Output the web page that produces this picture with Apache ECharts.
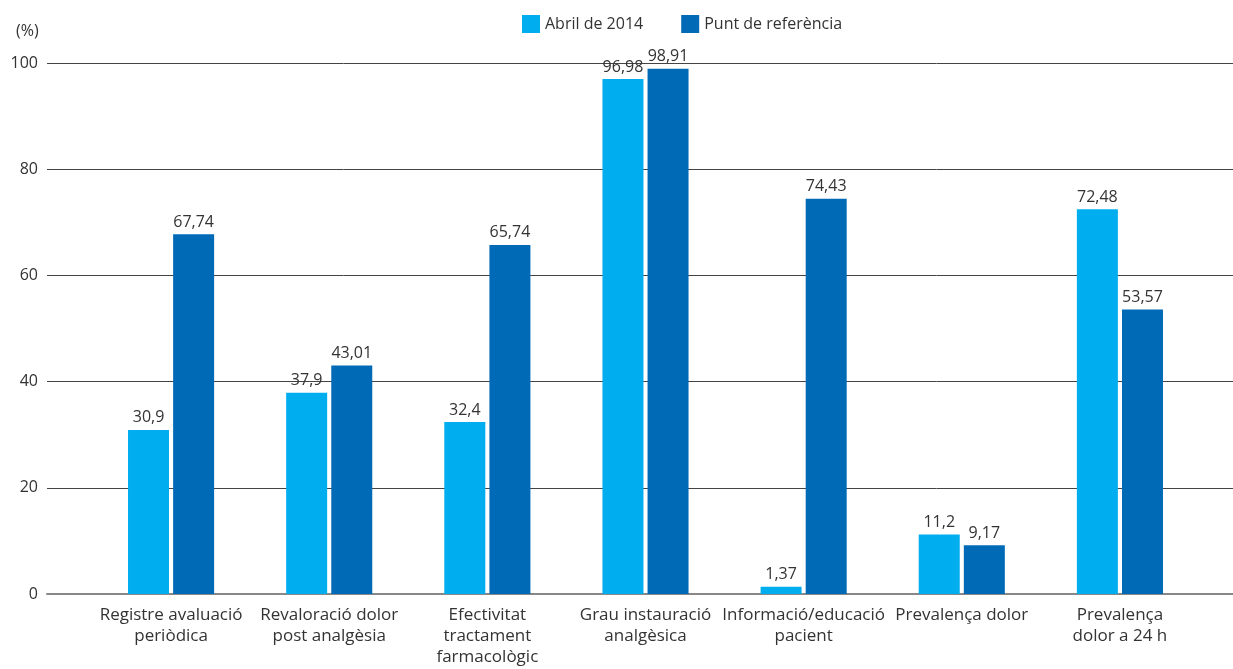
<!DOCTYPE html>
<html><head><meta charset="utf-8">
<script src="https://cdn.jsdelivr.net/npm/echarts@6/dist/echarts.min.js"></script>
<style>html,body{margin:0;padding:0;background:#fff}#c{width:1233px;height:669px}</style>
</head><body><div id="c"></div>
<script>
const categories = ["Registre avaluació\nperiòdica","Revaloració dolor\npost analgèsia","Efectivitat\ntractament\nfarmacològic","Grau instauració\nanalgèsica","Informació/educació\npacient","Prevalença dolor","Prevalença\ndolor a 24 h"];
const seriesNames = ["Abril de 2014","Punt de referència"];
const abril2014 = [30.9, 37.9, 32.4, 96.98, 1.37, 11.2, 72.48];
const puntReferencia = [67.74, 43.01, 65.74, 98.91, 74.43, 9.17, 53.57];
const yTicks = [0,20,40,60,80,100];

const fontFam = '"Open Sans", "Noto Sans", sans-serif';
const txt = '#333';
const fmt = p => String(p.value).replace('.', ',');
const chart = echarts.init(document.getElementById('c'));
chart.setOption({
  animation:false,
  textStyle:{fontFamily:fontFam},
  title:{text:'(%)', left:11, top:18, textStyle:{fontSize:16, fontWeight:'normal', color:txt, fontFamily:fontFam}},
  legend:{left:517, top:10, itemWidth:18, itemHeight:18, itemGap:38, icon:'rect',
    textStyle:{fontSize:16, color:txt, fontFamily:fontFam}, data:seriesNames},
  grid:[
    {left:47, right:0, top:63, bottom:75},
    {left:92, width:1107, top:63, bottom:75}
  ],
  xAxis:[
    {gridIndex:0, type:'category', data:[''], axisLine:{show:true, lineStyle:{color:'#888', width:2}}, axisTick:{show:false}, axisLabel:{show:false}},
    {gridIndex:1, type:'category', data:categories, axisLine:{show:false}, axisTick:{show:false},
      axisLabel:{fontSize:17, color:txt, lineHeight:21, margin:11, interval:0, fontFamily:fontFam}}
  ],
  yAxis:[
    {gridIndex:0, type:'value', min:0, max:100, interval:20, axisLine:{show:false}, axisTick:{show:false},
      axisLabel:{fontSize:16, color:txt, margin:9, fontFamily:fontFam, formatter:v=>yTicks.includes(v)?String(v):''},
      splitLine:{lineStyle:{color:'#444', width:1}}},
    {gridIndex:1, type:'value', min:0, max:100, interval:20, show:false, splitLine:{show:false}}
  ],
  series:[
    {name:seriesNames[0], type:'bar', xAxisIndex:1, yAxisIndex:1, data:abril2014, barWidth:41, barGap:'10%',
      itemStyle:{color:'#00AEEF'}, label:{show:true, position:'top', distance:4, fontSize:16, color:txt, formatter:fmt, fontFamily:fontFam}},
    {name:seriesNames[1], type:'bar', xAxisIndex:1, yAxisIndex:1, data:puntReferencia, barWidth:41,
      itemStyle:{color:'#006AB6'}, label:{show:true, position:'top', distance:4, fontSize:16, color:txt, formatter:fmt, fontFamily:fontFam}}
  ]
});
</script></body></html>
